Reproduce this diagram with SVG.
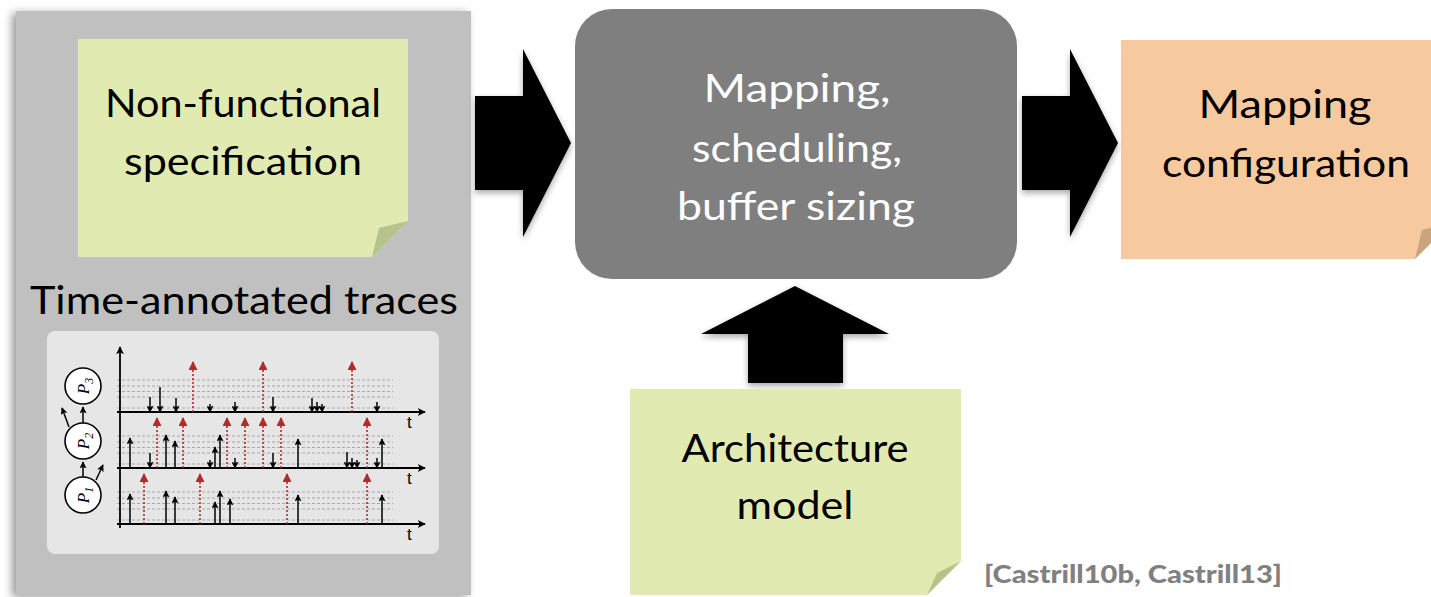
<svg xmlns="http://www.w3.org/2000/svg" width="1431" height="597" viewBox="0 0 1431 597">
  <defs>
    <style>
      .lbl { font-family: Lato, "Open Sans", "Liberation Sans", sans-serif; font-size: 38px; text-anchor: middle; fill: #000; }
      .wht { fill: #fff; }
      .note-g { fill: #e1ebb1; }
      .curl-g { fill: #b6c38b; }
      .note-o { fill: #f6c99f; }
      .curl-o { fill: #c9a47f; }
      .big-arrow { fill: #000; filter: url(#shadow); }
      .grid { stroke: #a8a8a8; stroke-width: 1; stroke-dasharray: 3 2; fill: none; }
      .ev { stroke: #000; stroke-width: 1.5; fill: none; marker-end: url(#headK); }
      .rel { stroke: #b22a2a; stroke-width: 1.6; stroke-dasharray: 2 2; fill: none; marker-end: url(#headR); }
      .axis { stroke: #000; stroke-width: 1.8; fill: none; marker-end: url(#headA); }
      .tl { font-family: "Liberation Sans", Arial, sans-serif; font-size: 17px; fill: #000; }
      .proc { fill: #fff; stroke: #000; stroke-width: 1.6; }
      .pl { font-family: "Liberation Serif", "Times New Roman", serif; font-style: italic; font-size: 17px; text-anchor: middle; fill: #000; }
    </style>
    <filter id="shadow" x="-20%" y="-20%" width="140%" height="140%">
      <feDropShadow dx="0" dy="3" stdDeviation="3" flood-color="#000" flood-opacity="0.35"/>
    </filter>
    <filter id="panelShadow" x="-10%" y="-10%" width="120%" height="120%">
      <feDropShadow dx="-4" dy="2" stdDeviation="4" flood-color="#000" flood-opacity="0.4"/>
    </filter>
    <marker id="headK" viewBox="0 0 10 10" refX="9" refY="5" markerWidth="9" markerHeight="7" orient="auto" markerUnits="userSpaceOnUse">
      <path d="M0,0 L10,5 L0,10 L2,5 z" fill="#000"/>
    </marker>
    <marker id="headR" viewBox="0 0 10 10" refX="9" refY="5" markerWidth="12" markerHeight="9" orient="auto" markerUnits="userSpaceOnUse">
      <path d="M0,0 L10,5 L0,10 z" fill="#b22a2a"/>
    </marker>
    <marker id="headA" viewBox="0 0 10 10" refX="9" refY="5" markerWidth="11" markerHeight="8" orient="auto" markerUnits="userSpaceOnUse">
      <path d="M0,0 L10,5 L0,10 L2.5,5 z" fill="#000"/>
    </marker>
  </defs>

  <rect width="1431" height="597" fill="#fff"/>

  <!-- Left input panel -->
  <g id="inputs">
    <rect x="16" y="11" width="455" height="584" fill="#c0c0c0" filter="url(#panelShadow)"/>
  </g>

  <g id="nonfunctional-spec">
    <path class="note-g" d="M78,39 H408 V221 L372,257 H78 Z"/>
    <path class="curl-g" d="M408,221 L379,228 L372,257 Z"/>
    <text class="lbl" x="243" y="117" textLength="276" lengthAdjust="spacingAndGlyphs">Non-functional</text>
    <text class="lbl" x="243" y="175" textLength="238" lengthAdjust="spacingAndGlyphs">specification</text>
  </g>

  <g id="traces">
    <text class="lbl" x="244" y="314" font-size="40" textLength="428" lengthAdjust="spacingAndGlyphs">Time-annotated traces</text>
    <rect x="47" y="331" width="392" height="223" rx="8" fill="#e6e6e6"/>

    <!-- process chain -->
    <g id="processes">
      <line x1="83" y1="477" x2="83" y2="462" class="ev"/>
      <line x1="83" y1="423" x2="83" y2="407" class="ev"/>
      <line x1="96" y1="480" x2="103" y2="465" class="ev"/>
      <line x1="69" y1="427" x2="62" y2="408" class="ev"/>
      <circle class="proc" cx="83" cy="386" r="18"/>
      <circle class="proc" cx="83" cy="441" r="18"/>
      <circle class="proc" cx="83" cy="495" r="18"/>
      <text class="pl" transform="translate(89,386) rotate(-90)">P<tspan font-size="12" dy="4">3</tspan></text>
      <text class="pl" transform="translate(89,441) rotate(-90)">P<tspan font-size="12" dy="4">2</tspan></text>
      <text class="pl" transform="translate(89,495) rotate(-90)">P<tspan font-size="12" dy="4">1</tspan></text>
    </g>

    <!-- level grid -->
    <path class="grid" d="M117,380 H393 M117,386 H393 M117,391.5 H393 M117,397 H393 M117,408 H393"/>
    <path class="grid" d="M117,436 H393 M117,442 H393 M117,447.5 H393 M117,453 H393 M117,464 H393"/>
    <path class="grid" d="M117,492 H393 M117,498 H393 M117,503.5 H393 M117,509 H393 M117,520 H393"/>

    <!-- axes -->
    <line class="axis" x1="120" y1="528" x2="120" y2="347"/>
    <line class="axis" x1="117" y1="412" x2="425" y2="412"/>
    <line class="axis" x1="117" y1="468" x2="425" y2="468"/>
    <line class="axis" x1="117" y1="524" x2="425" y2="524"/>
    <text class="tl" x="407" y="428">t</text>
    <text class="tl" x="407" y="484">t</text>
    <text class="tl" x="407" y="540">t</text>

    <!-- release events (dotted) -->
    <g id="releases">
      <line class="rel" x1="193" y1="412" x2="193" y2="362"/>
      <line class="rel" x1="263" y1="412" x2="263" y2="362"/>
      <line class="rel" x1="352" y1="412" x2="352" y2="362"/>
      <line class="rel" x1="157" y1="468" x2="157" y2="418"/>
      <line class="rel" x1="183" y1="468" x2="183" y2="418"/>
      <line class="rel" x1="227" y1="468" x2="227" y2="418"/>
      <line class="rel" x1="245" y1="468" x2="245" y2="418"/>
      <line class="rel" x1="263" y1="468" x2="263" y2="418"/>
      <line class="rel" x1="281" y1="468" x2="281" y2="418"/>
      <line class="rel" x1="367" y1="468" x2="367" y2="418"/>
      <line class="rel" x1="144" y1="524" x2="144" y2="474"/>
      <line class="rel" x1="200" y1="524" x2="200" y2="474"/>
      <line class="rel" x1="287" y1="524" x2="287" y2="474"/>
      <line class="rel" x1="367" y1="524" x2="367" y2="474"/>
    </g>

    <!-- read/write events -->
    <g id="events">
      <line class="ev" x1="150" y1="397" x2="150" y2="412"/>
      <line class="ev" x1="160" y1="387" x2="160" y2="412"/>
      <line class="ev" x1="176" y1="398" x2="176" y2="412"/>
      <line class="ev" x1="210" y1="404" x2="210" y2="412"/>
      <line class="ev" x1="235" y1="402" x2="235" y2="412"/>
      <line class="ev" x1="273" y1="397" x2="273" y2="412"/>
      <line class="ev" x1="312" y1="398" x2="312" y2="412"/>
      <line class="ev" x1="317" y1="402" x2="317" y2="412"/>
      <line class="ev" x1="322" y1="404" x2="322" y2="412"/>
      <line class="ev" x1="377" y1="402" x2="377" y2="412"/>

      <line class="ev" x1="150" y1="453" x2="150" y2="468"/>
      <line class="ev" x1="210" y1="460" x2="210" y2="468"/>
      <line class="ev" x1="235" y1="458" x2="235" y2="468"/>
      <line class="ev" x1="273" y1="453" x2="273" y2="468"/>
      <line class="ev" x1="347" y1="452" x2="347" y2="468"/>
      <line class="ev" x1="352" y1="458" x2="352" y2="468"/>
      <line class="ev" x1="357" y1="460" x2="357" y2="468"/>
      <line class="ev" x1="377" y1="458" x2="377" y2="468"/>

      <line class="ev" x1="130" y1="468" x2="130" y2="438"/>
      <line class="ev" x1="166" y1="468" x2="166" y2="435"/>
      <line class="ev" x1="175" y1="468" x2="175" y2="441"/>
      <line class="ev" x1="215" y1="468" x2="215" y2="447"/>
      <line class="ev" x1="220" y1="468" x2="220" y2="435"/>
      <line class="ev" x1="298" y1="468" x2="298" y2="439"/>
      <line class="ev" x1="382" y1="468" x2="382" y2="439"/>

      <line class="ev" x1="130" y1="524" x2="130" y2="494"/>
      <line class="ev" x1="166" y1="524" x2="166" y2="491"/>
      <line class="ev" x1="175" y1="524" x2="175" y2="497"/>
      <line class="ev" x1="215" y1="524" x2="215" y2="502"/>
      <line class="ev" x1="220" y1="524" x2="220" y2="491"/>
      <line class="ev" x1="230" y1="524" x2="230" y2="499"/>
      <line class="ev" x1="298" y1="524" x2="298" y2="495"/>
      <line class="ev" x1="382" y1="524" x2="382" y2="495"/>
    </g>
  </g>

  <!-- Block arrows between stages -->
  <g id="connectors">
    <path class="big-arrow" d="M475,96 H523 V49 L571,143 L523,237 V190 H475 Z"/>
    <path class="big-arrow" d="M1022,96 H1070 V49 L1118,143 L1070,237 V190 H1022 Z"/>
    <path class="big-arrow" d="M748,383 V334 H701 L795,286 L889,334 H843 V383 Z"/>
  </g>

  <g id="mapping-step">
    <rect x="575" y="9" width="442" height="270" rx="37" fill="#7f7f7f"/>
    <text class="lbl wht" x="797" y="102" font-size="37" textLength="187" lengthAdjust="spacingAndGlyphs">Mapping,</text>
    <text class="lbl wht" x="797" y="162" font-size="37" textLength="210" lengthAdjust="spacingAndGlyphs">scheduling,</text>
    <text class="lbl wht" x="796" y="220" font-size="37" textLength="238" lengthAdjust="spacingAndGlyphs">buffer sizing</text>
  </g>

  <g id="mapping-configuration">
    <path class="note-o" d="M1121,40 H1451 V223 L1415,259 H1121 Z"/>
    <path class="curl-o" d="M1451,223 L1422,230 L1415,259 Z"/>
    <text class="lbl" x="1285" y="118" font-size="37" textLength="173" lengthAdjust="spacingAndGlyphs">Mapping</text>
    <text class="lbl" x="1286" y="177" font-size="37" textLength="248" lengthAdjust="spacingAndGlyphs">configuration</text>
  </g>

  <g id="architecture-model">
    <path class="note-g" d="M630,389 H961 V561 L927,595 H630 Z"/>
    <path class="curl-g" d="M961,561 L937,573 L927,595 Z"/>
    <text class="lbl" x="795" y="462" font-size="39" textLength="227" lengthAdjust="spacingAndGlyphs">Architecture</text>
    <text class="lbl" x="795" y="519" font-size="39" textLength="117" lengthAdjust="spacingAndGlyphs">model</text>
  </g>

  <text x="984" y="583" font-family="Lato, 'Liberation Sans', sans-serif" font-weight="900" font-size="25" fill="#808080" textLength="298" lengthAdjust="spacingAndGlyphs">[Castrill10b, Castrill13]</text>
</svg>
